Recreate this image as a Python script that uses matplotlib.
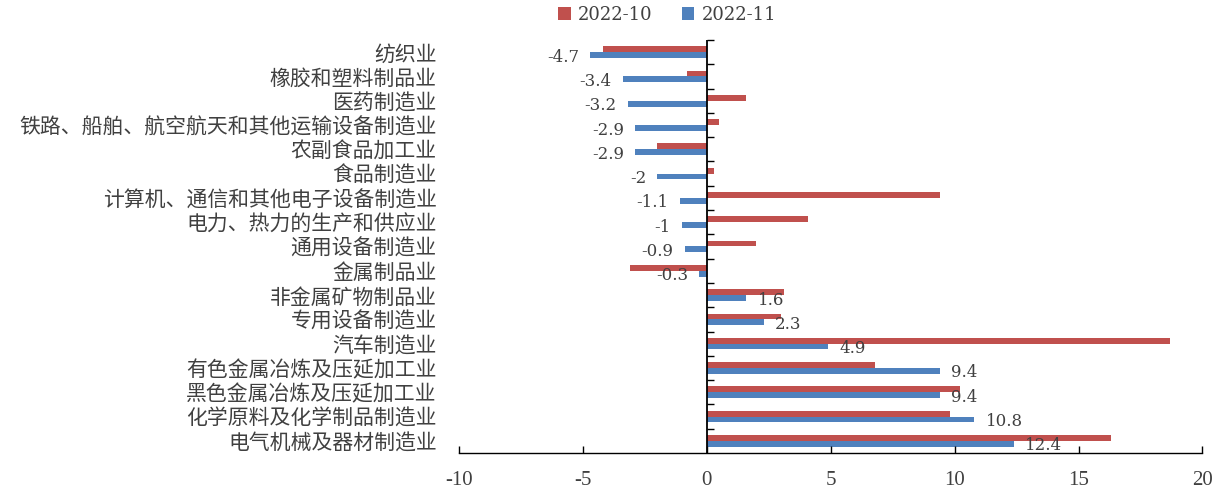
import matplotlib.pyplot as plt
import numpy as np

plt.rcParams['font.family'] = ['Noto Sans CJK SC', 'DejaVu Sans']

###--- Data ---###
categories = ['纺织业', '橡胶和塑料制品业', '医药制造业',
              '铁路、船舶、航空航天和其他运输设备制造业', '农副食品加工业',
              '食品制造业', '计算机、通信和其他电子设备制造业',
              '电力、热力的生产和供应业', '通用设备制造业', '金属制品业',
              '非金属矿物制品业', '专用设备制造业', '汽车制造业',
              '有色金属冶炼及压延加工业', '黑色金属冶炼及压延加工业',
              '化学原料及化学制品制造业', '电气机械及器材制造业']
oct_2022 = [-4.2, -0.8, 1.6, 0.5, -2.0, 0.3, 9.4, 4.1, 2.0, -3.1,
            3.1, 3.0, 18.7, 6.8, 10.2, 9.8, 16.3]
nov_2022 = [-4.7, -3.4, -3.2, -2.9, -2.9, -2.0, -1.1, -1.0, -0.9, -0.3,
            1.6, 2.3, 4.9, 9.4, 9.4, 10.8, 12.4]
xticks = [-10, -5, 0, 5, 10, 15, 20]

red = '#C0504D'
blue = '#4F81BD'
txt = '#404040'

###--- Plot ---###
fig = plt.figure(figsize=(12.22, 4.92), dpi=100)
ax = fig.add_axes([0.3756, 0.0793, 0.9840 - 0.3756, 0.9187 - 0.0793])

y = np.arange(len(categories))
h = 0.24
ax.barh(y - h / 2, oct_2022, height=h, color=red, label='2022-10')
ax.barh(y + h / 2, nov_2022, height=h, color=blue, label='2022-11')

# value labels for the 2022-11 series
for yi, v in zip(y, nov_2022):
    ax.annotate(f'{v:g}', (v, yi + h / 2), xytext=(8 if v > 0 else -8, -1.5),
                textcoords='offset points', ha='left' if v > 0 else 'right',
                va='center', fontsize=12, color=txt, family='DejaVu Serif')

ax.set_xlim(-10, 20)
ax.set_ylim(len(categories) - 0.5, -0.5)
ax.set_xticks(xticks)
ax.set_xticklabels([str(t) for t in xticks], family='Liberation Serif',
                   fontsize=15, color=txt)
ax.tick_params(axis='x', direction='in', length=5, width=1, pad=13)

ax.set_yticks(y)
ax.set_yticklabels(categories, fontsize=15, color=txt)
ax.tick_params(axis='y', length=0, pad=16)

for s in ['top', 'right', 'left']:
    ax.spines[s].set_visible(False)
ax.spines['bottom'].set_linewidth(1)

# category axis crossing at zero with boundary ticks
ax.axvline(0, color='black', lw=1.3)
bounds = np.arange(len(categories)) - 0.5
ax.plot(np.zeros(len(bounds)), bounds, ls='', marker=1, ms=5, mew=1,
        color='black', clip_on=False)

ax.legend(loc='center', bbox_to_anchor=(0.546, 0.97),
          bbox_transform=fig.transFigure, ncol=2, frameon=False,
          prop={'family': 'DejaVu Serif', 'size': 13}, labelcolor=txt,
          handlelength=0.7, handleheight=0.7, handletextpad=0.4,
          columnspacing=1.6)

fig.savefig('out.png', dpi=100)
